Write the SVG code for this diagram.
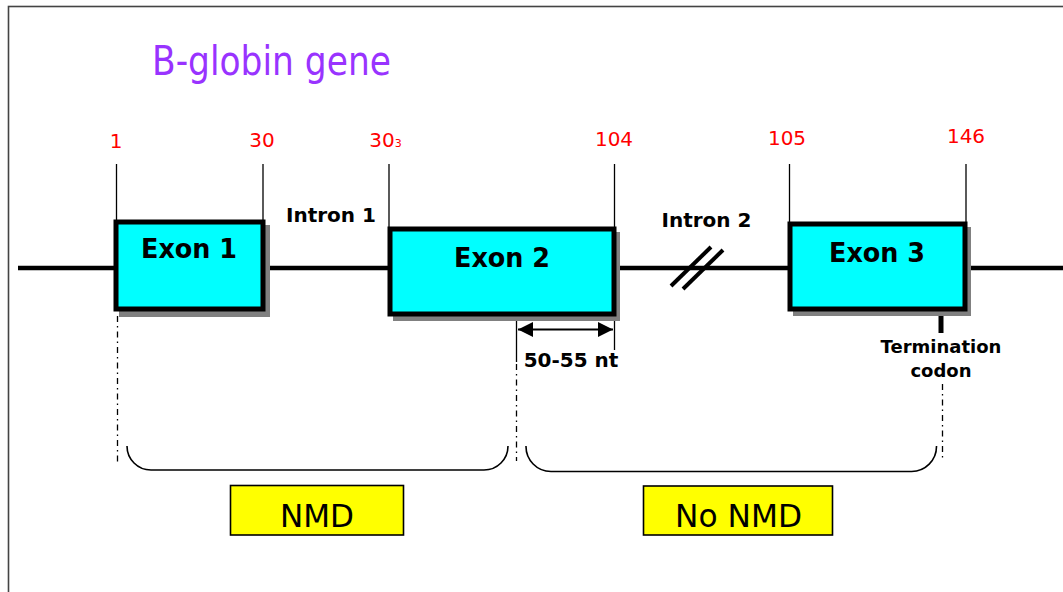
<svg xmlns="http://www.w3.org/2000/svg" width="1063" height="592" viewBox="0 0 1063 592">
<style>
  .frame{fill:none;stroke:#444;stroke-width:1.6}
  .dna{stroke:#000;stroke-width:4.5;fill:none}
  .tick{stroke:#000;stroke-width:1.3;fill:none}
  .shadow{fill:#808080}
  .exon{fill:#00FFFF;stroke:#000;stroke-width:5}
  .exlbl{font-family:"DejaVu Sans",Verdana,sans-serif;font-weight:bold;font-size:27px;fill:#000;text-anchor:middle}
  .num{font-family:"DejaVu Sans",Verdana,sans-serif;font-size:20px;fill:#FF0000;text-anchor:middle}
  .lbl{font-family:"DejaVu Sans",Verdana,sans-serif;font-weight:bold;font-size:20px;fill:#000;text-anchor:middle}
  .small{font-family:"DejaVu Sans",Verdana,sans-serif;font-weight:bold;font-size:18px;fill:#000;text-anchor:middle}
  .dashdot{stroke:#000;stroke-width:1.3;fill:none;stroke-dasharray:6 4 1.5 4}
  .brace{stroke:#000;stroke-width:1.6;fill:none}
  .ybox{fill:#FFFF00;stroke:#000;stroke-width:1.6}
  .ylbl{font-family:"DejaVu Sans",Verdana,sans-serif;font-size:32px;fill:#000;text-anchor:middle}
</style>
<defs>
  <marker id="ah" viewBox="0 0 10 10" refX="10" refY="5" markerWidth="16" markerHeight="15" markerUnits="userSpaceOnUse" orient="auto-start-reverse">
    <path d="M0,0 L10,5 L0,10 Z" fill="#000"/>
  </marker>
</defs>
<rect x="0" y="0" width="1063" height="592" fill="#fff"/>
<rect class="frame" x="8.5" y="6.5" width="1100" height="700"/>
<text x="152" y="75" font-family="DejaVu Sans, Verdana, sans-serif" font-size="40" fill="#9933FF" textLength="239" lengthAdjust="spacingAndGlyphs">B-globin gene</text>

<g id="connectors">
  <line class="dna" x1="18" y1="268" x2="1063" y2="268"/>
  <line class="tick" x1="116.5" y1="164" x2="116.5" y2="222"/>
  <line class="tick" x1="263" y1="164" x2="263" y2="222"/>
  <line class="tick" x1="389" y1="164" x2="389" y2="229"/>
  <line class="tick" x1="614.5" y1="164" x2="614.5" y2="229"/>
  <line class="tick" x1="789.5" y1="164" x2="789.5" y2="224"/>
  <line class="tick" x1="966" y1="164" x2="966" y2="224"/>
  <line x1="671" y1="286" x2="711" y2="247" stroke="#000" stroke-width="4"/>
  <line x1="683" y1="289" x2="723" y2="250" stroke="#000" stroke-width="4"/>
  <line class="tick" x1="614.5" y1="314" x2="614.5" y2="350"/>
  <line class="tick" x1="516.5" y1="316" x2="516.5" y2="362"/>
  <line x1="518" y1="329.5" x2="613" y2="329.5" stroke="#000" stroke-width="1.8" marker-start="url(#ah)" marker-end="url(#ah)"/>
  <line x1="941" y1="313" x2="941" y2="333" stroke="#000" stroke-width="5"/>
  <line class="dashdot" x1="117.5" y1="316" x2="117.5" y2="463"/>
  <line class="dashdot" x1="516.5" y1="364" x2="516.5" y2="461"/>
  <line class="dashdot" x1="942.5" y1="384" x2="942.5" y2="460"/>
  <path class="brace" d="M127,446 A24,24 0 0 0 151,470 L484,470 A24,24 0 0 0 508,446"/>
  <path class="brace" d="M526,446 A25,25 0 0 0 551,471.5 L911,471.5 A25,25 0 0 0 936.5,446"/>
</g>

<g id="labels">
  <text class="num" x="116" y="148">1</text>
  <text class="num" x="262" y="147">30</text>
  <text class="num" x="385.5" y="147">30<tspan font-size="11">3</tspan></text>
  <text class="num" x="614" y="146">104</text>
  <text class="num" x="787" y="145">105</text>
  <text class="num" x="966" y="143">146</text>
  <text class="lbl" x="331" y="222">Intron 1</text>
  <text class="lbl" x="706.5" y="227">Intron 2</text>
  <text class="lbl" x="571" y="367">50-55 nt</text>
  <text class="small" x="941" y="353">Termination</text>
  <text class="small" x="941" y="377">codon</text>
</g>

<g id="exon1">
  <rect class="shadow" x="119" y="225" width="151" height="92"/>
  <rect class="exon" x="116" y="222" width="147" height="87"/>
  <text class="exlbl" x="189" y="258" textLength="96" lengthAdjust="spacingAndGlyphs">Exon 1</text>
</g>
<g id="exon2">
  <rect class="shadow" x="393" y="232" width="227" height="89"/>
  <rect class="exon" x="390" y="229" width="224" height="85"/>
  <text class="exlbl" x="502" y="267" textLength="96" lengthAdjust="spacingAndGlyphs">Exon 2</text>
</g>
<g id="exon3">
  <rect class="shadow" x="793" y="227" width="178" height="89"/>
  <rect class="exon" x="790" y="224" width="175" height="85"/>
  <text class="exlbl" x="877" y="262" textLength="96" lengthAdjust="spacingAndGlyphs">Exon 3</text>
</g>

<g id="nmd">
  <rect class="ybox" x="230.5" y="485.5" width="173" height="49.5"/>
  <text class="ylbl" x="317" y="527" textLength="74" lengthAdjust="spacingAndGlyphs">NMD</text>
</g>
<g id="nonmd">
  <rect class="ybox" x="643.5" y="486" width="189" height="49"/>
  <text class="ylbl" x="738.5" y="527" textLength="127" lengthAdjust="spacingAndGlyphs">No NMD</text>
</g>
</svg>
